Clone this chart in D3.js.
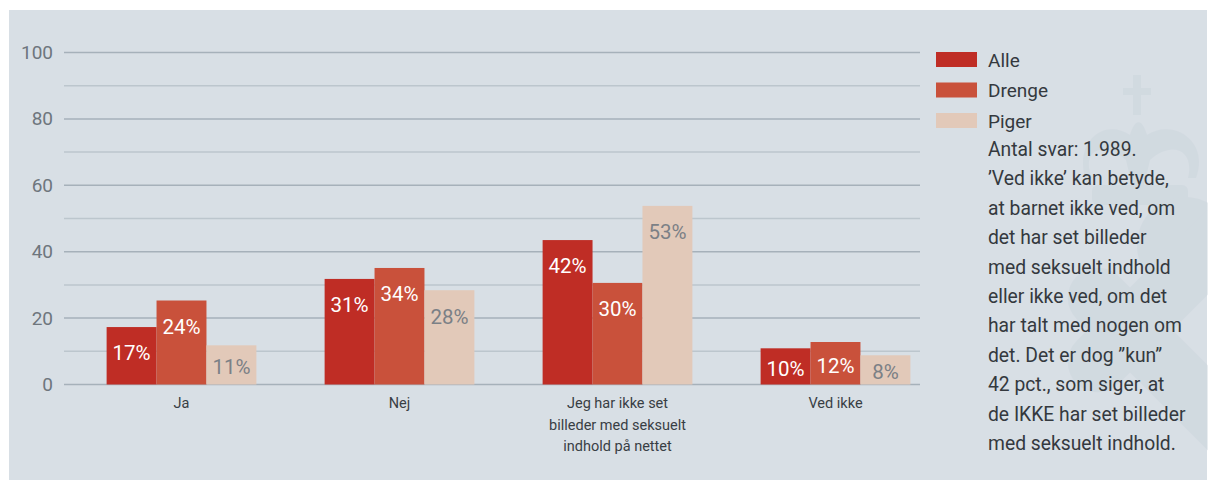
<!DOCTYPE html>
<html>
<head>
<meta charset="utf-8">
<script src="https://cdn.jsdelivr.net/npm/d3@7"></script>
<style>
  body { margin: 0; background: #ffffff; }
  #chart { width: 1208px; height: 480px; }
  text { font-family: Roboto, "Open Sans", sans-serif; }
</style>
</head>
<body>
<div id="chart"></div>
<script>
const categories = [
    ['Ja'],
    ['Nej'],
    ['Jeg har ikke set', 'billeder med seksuelt', 'indhold på nettet'],
    ['Ved ikke']
];
const seriesNames = ['Alle', 'Drenge', 'Piger'];
const seriesColors = ['#bf2d25', '#c9513b', '#e2c9b9'];
const labelColors = ['#ffffff', '#ffffff', '#7b8086'];

// bar heights as drawn
const alle = [17.3, 31.8, 43.5, 10.9];
const drenge = [25.3, 35.1, 30.6, 12.8];
const piger = [11.8, 28.4, 53.8, 8.8];
// printed labels
const alleLabels = ['17%', '31%', '42%', '10%'];
const drengeLabels = ['24%', '34%', '30%', '12%'];
const pigerLabels = ['11%', '28%', '53%', '8%'];

const yTicks = [0, 20, 40, 60, 80, 100];
const yMinor = [10, 30, 50, 70, 90];

const noteLines = [
    'Antal svar: 1.989.',
    '’Ved ikke’ kan betyde,',
    'at barnet ikke ved, om',
    'det har set billeder',
    'med seksuelt indhold',
    'eller ikke ved, om det',
    'har talt med nogen om',
    'det. Det er dog ”kun”',
    '42 pct., som siger, at',
    'de IKKE har set billeder',
    'med seksuelt indhold.'
];

const values = [alle, drenge, piger];
const labels = [alleLabels, drengeLabels, pigerLabels];

const width = 1208, height = 480;
const svg = d3.select('#chart').append('svg')
    .attr('width', width)
    .attr('height', height);

// panel
svg.append('rect')
    .attr('x', 9).attr('y', 10)
    .attr('width', 1198).attr('height', 470)
    .style('fill', '#d8dfe5');

// faint crown watermark
const wm = svg.append('g')
    .style('fill', '#c9d3db')
    .style('opacity', 0.4);
wm.append('rect').attr('x', 1133).attr('y', 75).attr('width', 8).attr('height', 40);
wm.append('rect').attr('x', 1123).attr('y', 88).attr('width', 28).attr('height', 7);
wm.append('path')
    .attr('d', 'M1085,178 C1075,140 1105,118 1130,135 C1135,118 1142,118 1147,135 C1172,118 1210,140 1196,178 L1188,178 C1195,150 1172,140 1150,160 L1138,210 L1126,160 C1104,140 1080,150 1092,178 Z');
wm.append('rect').attr('x', 1092).attr('y', 185).attr('width', 96).attr('height', 20).attr('rx', 6);
wm.append('circle').attr('cx', 1185).attr('cy', 245).attr('r', 48);
wm.append('rect')
    .attr('x', 1040).attr('y', 265).attr('width', 250).attr('height', 60).attr('rx', 30)
    .attr('transform', 'rotate(-45 1165 295)');
wm.append('rect')
    .attr('x', 1040).attr('y', 335).attr('width', 250).attr('height', 60).attr('rx', 30)
    .attr('transform', 'rotate(45 1165 365)');

const y = d3.scaleLinear().domain([0, 100]).range([384.5, 52.5]);
const gridX0 = 64, gridX1 = 920;

const grid = svg.append('g').attr('class', 'grid');
grid.selectAll('line.minor')
    .data(yMinor)
    .enter().append('line')
    .attr('class', 'minor')
    .attr('x1', gridX0).attr('x2', gridX1)
    .attr('y1', d => y(d)).attr('y2', d => y(d))
    .style('stroke', '#bcc6cd')
    .style('stroke-width', 1.5);
grid.selectAll('line.major')
    .data(yTicks)
    .enter().append('line')
    .attr('class', 'major')
    .attr('x1', gridX0).attr('x2', gridX1)
    .attr('y1', d => y(d)).attr('y2', d => y(d))
    .style('stroke', '#a6b1ba')
    .style('stroke-width', 1.5);

const yAxis = d3.axisLeft(y).tickValues(yTicks).tickSize(0).tickPadding(0);
svg.append('g')
    .attr('transform', 'translate(53,0)')
    .call(yAxis)
    .call(g => g.select('.domain').remove())
    .selectAll('text')
    .style('font-size', '19px')
    .style('font-family', 'Roboto, sans-serif')
    .style('fill', '#6e767d');

const x0 = d3.scaleBand()
    .domain(d3.range(categories.length))
    .range([72.5, 944.5])
    .paddingInner(0.313)
    .paddingOuter(0.1565);
const x1 = d3.scaleBand()
    .domain(d3.range(seriesNames.length))
    .range([0, x0.bandwidth()]);

const groups = svg.append('g').attr('class', 'bars')
    .selectAll('g')
    .data(categories)
    .enter().append('g')
    .attr('transform', (d, i) => `translate(${x0(i)},0)`);

const barData = (d, i) => seriesNames.map((s, j) => ({
    series: j,
    value: values[j][i],
    label: labels[j][i]
}));

groups.selectAll('rect')
    .data(barData)
    .enter().append('rect')
    .attr('x', d => x1(d.series))
    .attr('width', x1.bandwidth())
    .attr('y', d => y(d.value))
    .attr('height', d => y(0) - y(d.value))
    .style('fill', d => seriesColors[d.series]);

groups.selectAll('text.val')
    .data(barData)
    .enter().append('text')
    .attr('class', 'val')
    .attr('x', d => x1(d.series) + x1.bandwidth() / 2)
    .attr('y', d => Math.min(y(d.value) + 26, (y(d.value) + y(0)) / 2 + 2))
    .attr('dy', '0.36em')
    .attr('text-anchor', 'middle')
    .style('font-size', '20.5px')
    .style('fill', d => labelColors[d.series])
    .text(d => d.label);

// category labels
groups.append('text')
    .attr('x', x0.bandwidth() / 2)
    .attr('y', 403)
    .attr('text-anchor', 'middle')
    .style('font-size', '14.5px')
    .style('fill', '#383e44')
    .selectAll('tspan')
    .data(d => d)
    .enter().append('tspan')
    .attr('x', x0.bandwidth() / 2)
    .attr('dy', (d, i) => i === 0 ? '0.35em' : '21.5px')
    .text(d => d);

// legend
const legend = svg.append('g').attr('class', 'legend');
const legendItems = legend.selectAll('g')
    .data(seriesNames)
    .enter().append('g')
    .attr('transform', (d, i) => `translate(936,${52 + i * 30.5})`);
legendItems.append('rect')
    .attr('width', 41).attr('height', 15)
    .style('fill', (d, i) => seriesColors[i]);
legendItems.append('text')
    .attr('x', 52).attr('y', 8)
    .attr('dy', '0.36em')
    .style('font-size', '19px')
    .style('fill', '#34393e')
    .text(d => d);

legend.append('g')
    .selectAll('text')
    .data(noteLines)
    .enter().append('text')
    .attr('x', 988)
    .attr('y', (d, i) => 149 + i * 29.4)
    .attr('dy', '0.36em')
    .style('font-size', '19.3px')
    .style('fill', '#34393e')
    .text(d => d);
</script>
</body>
</html>
